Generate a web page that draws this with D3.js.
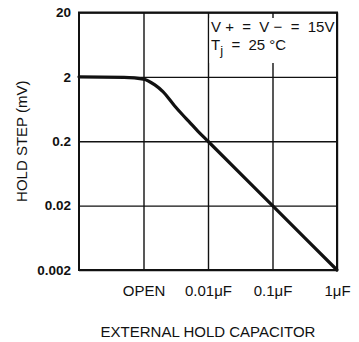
<!DOCTYPE html>
<html>
<head>
<meta charset="utf-8">
<script src="https://cdn.jsdelivr.net/npm/d3@7"></script>
<style>
  body { margin: 0; background: #fff; }
  svg { display: block; font-family: "Liberation Sans", Arial, sans-serif; }
</style>
</head>
<body>
<svg width="359" height="342"></svg>
<script>
// ticks
const yTicks = [0.002, 0.02, 0.2, 2, 20];
const yTickLabels = ['0.002', '0.02', '0.2', '2', '20'];
const xTicks = [0.001, 0.01, 0.1, 1];
const xTickLabels = ['OPEN', '0.01\u03BCF', '0.1\u03BCF', '1\u03BCF'];

// curve (capacitance in uF, hold step in mV)
const capacitance = [0.0001, 0.0005, 0.001, 0.0015, 0.002, 0.003, 0.004, 0.005, 0.007, 0.01, 0.1, 1];
const holdStep = [2, 1.97, 1.85, 1.5, 1.18, 0.72, 0.52, 0.41, 0.285, 0.2, 0.02, 0.002];

const svg = d3.select('svg');
const width = +svg.attr('width');
const height = +svg.attr('height');

const margin = {top: 12.5, right: 22, bottom: 72, left: 79};
const innerWidth = width - margin.left - margin.right;
const innerHeight = height - margin.top - margin.bottom;

const x = d3.scaleLog().domain([0.0001, 1]).range([0, innerWidth]);
const y = d3.scaleLog().domain([0.002, 20]).range([innerHeight, 0]);

const g = svg.append('g')
    .attr('transform', `translate(${margin.left},${margin.top})`);

// y axis + horizontal grid
const yAxis = g.append('g')
    .call(d3.axisLeft(y)
        .tickValues(yTicks)
        .tickFormat((d, i) => yTickLabels[i])
        .tickSize(-innerWidth)
        .tickPadding(8));
yAxis.select('.domain').remove();
yAxis.selectAll('line').attr('stroke', '#111').attr('stroke-width', 1.4);
yAxis.selectAll('text')
    .attr('fill', '#111')
    .style('font-size', '13.5px')
    .style('font-weight', 'bold');

// x axis + vertical grid
const xAxis = g.append('g')
    .attr('transform', `translate(0,${innerHeight})`)
    .call(d3.axisBottom(x)
        .tickValues(xTicks)
        .tickFormat((d, i) => xTickLabels[i])
        .tickSize(-innerHeight)
        .tickPadding(15));
xAxis.select('.domain').remove();
xAxis.selectAll('line').attr('stroke', '#111').attr('stroke-width', 1.4);
xAxis.selectAll('text')
    .attr('fill', '#111')
    .style('font-size', '15px');

// annotation box (white behind text, hides part of the grid)
g.append('rect')
    .attr('x', x(0.01) + 1.5)
    .attr('y', 5.5)
    .attr('width', x(1) - x(0.01) - 3)
    .attr('height', 45)
    .attr('fill', '#fff');

const note = g.append('g')
    .attr('transform', `translate(${x(0.01) + 3},0)`)
    .style('font-size', '15px')
    .attr('fill', '#111');
note.append('text')
    .attr('y', 19.5)
    .style('white-space', 'pre')
    .text('V +  =  V \u2212  =  15V');
const tj = note.append('text').attr('y', 37.5).style('white-space', 'pre');
tj.append('tspan').text('T');
tj.append('tspan').attr('dy', 5).style('font-size', '13px').text('j');
tj.append('tspan').attr('dy', -5).text('  =  25 \u00B0C');

// border
g.append('rect')
    .attr('width', innerWidth)
    .attr('height', innerHeight)
    .attr('fill', 'none')
    .attr('stroke', '#111')
    .attr('stroke-width', 2);

// curve
const line = d3.line()
    .x(d => x(d[0]))
    .y(d => y(d[1]))
    .curve(d3.curveMonotoneX);

g.append('path')
    .datum(d3.zip(capacitance, holdStep))
    .attr('d', line)
    .attr('fill', 'none')
    .attr('stroke', '#111')
    .attr('stroke-width', 3.2)
    .attr('stroke-linecap', 'round');

// axis titles
svg.append('text')
    .attr('transform', `translate(27,${margin.top + innerHeight / 2}) rotate(-90)`)
    .attr('text-anchor', 'middle')
    .style('font-size', '15px')
    .attr('fill', '#111')
    .text('HOLD STEP (mV)');

svg.append('text')
    .attr('x', margin.left + innerWidth / 2)
    .attr('y', 337)
    .attr('text-anchor', 'middle')
    .style('font-size', '15px')
    .attr('fill', '#111')
    .text('EXTERNAL HOLD CAPACITOR');
</script>
</body>
</html>
